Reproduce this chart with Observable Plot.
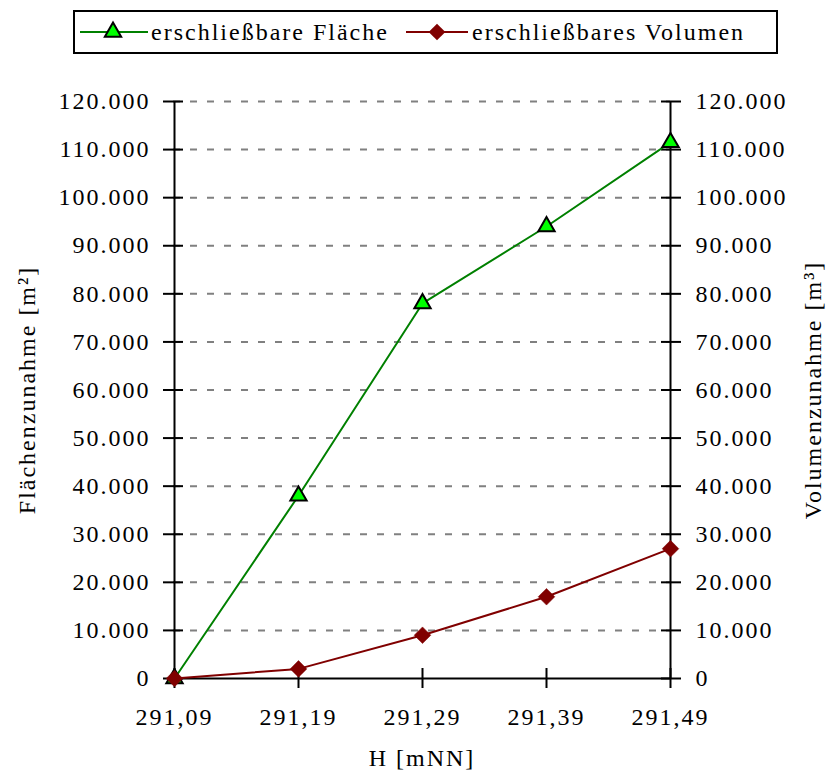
<!DOCTYPE html>
<html><head><meta charset="utf-8">
<script src="https://cdn.jsdelivr.net/npm/d3@7"></script>
<script src="https://cdn.jsdelivr.net/npm/@observablehq/plot@0.6"></script>
<style>
body{margin:0;background:#fff;font-family:"Liberation Serif",Tinos,"Times New Roman",Times,"Nimbus Roman","Nimbus Roman No9 L",FreeSerif,serif;}
#legend{position:absolute;left:73px;top:10px;width:705px;height:44px;border:2px solid #000;box-sizing:border-box;}
.item{position:absolute;top:0;height:40px;display:flex;align-items:center;font-size:24px;letter-spacing:2px;color:#000;white-space:nowrap;}
.sw{position:absolute;top:0;}
#chart{position:absolute;left:0;top:60px;}
#chart svg text{font-family:"Liberation Serif",Tinos,"Times New Roman",Times,"Nimbus Roman","Nimbus Roman No9 L",FreeSerif,serif;}
</style></head><body>
<div id="legend"></div><div id="chart"></div>
<script>
// Data
const heights = ["291,09", "291,19", "291,29", "291,39", "291,49"];
const flaeche = [0, 38000, 78000, 94000, 111500];
const volumen = [0, 2000, 9000, 17000, 27000];
const yTicks = [0, 10000, 20000, 30000, 40000, 50000, 60000, 70000, 80000, 90000, 100000, 110000, 120000];
const seriesNames = ["erschließbare Fläche", "erschließbares Volumen"];
const xTitle = "H [mNN]";
const yLeftTitle = "Flächenzunahme [m²]";
const yRightTitle = "Volumenzunahme [m³]";

const green = "#008000", greenFill = "#00ff00", red = "#800000";
const de = d3.formatLocale({decimal: ",", thousands: ".", grouping: [3], currency: ["", "€"]});
const fmt = de.format(",d");

const rowsF = heights.map((h, i) => ({h, v: flaeche[i]}));
const rowsV = heights.map((h, i) => ({h, v: volumen[i]}));

// Legend
const legend = document.getElementById("legend");
const triPath = d3.symbol(d3.symbolTriangle, 115)();
const diaPath = d3.symbol(d3.symbolDiamond2, Math.PI * 7.5 * 7.5)();
legend.innerHTML = `
<svg class="sw" style="left:5px" width="68" height="40"><line x1="0" x2="68" y1="20" y2="20" stroke="${green}" stroke-width="2"/><path d="${triPath}" transform="translate(33,20)" fill="${greenFill}" stroke="#000" stroke-width="2"/></svg>
<div class="item" style="left:76px">${seriesNames[0]}</div>
<svg class="sw" style="left:331px" width="62" height="40"><line x1="0" x2="62" y1="20" y2="20" stroke="${red}" stroke-width="2"/><path d="${diaPath}" transform="translate(31,20)" fill="${red}"/></svg>
<div class="item" style="left:397px">${seriesNames[1]}</div>`;

const chart = Plot.plot({
  width: 826,
  height: 713,
  marginTop: 41,
  marginBottom: 95,
  marginLeft: 173,
  marginRight: 156,
  style: {fontSize: "24px", letterSpacing: "2px", color: "#000", background: "#fff"},
  x: {type: "point", domain: heights, padding: 0, label: null},
  y: {domain: [0, 120000], label: null},
  marks: [
    Plot.gridY(yTicks.filter(d => d > 0), {stroke: "#808080", strokeOpacity: 1, strokeWidth: 2, strokeDasharray: "7,10"}),
    Plot.ruleY([0], {stroke: "#000", strokeWidth: 2}),
    Plot.ruleX([heights[0], heights[heights.length - 1]], {y1: 0, y2: 120000, stroke: "#000", strokeWidth: 2}),
    Plot.axisY({anchor: "left", ticks: yTicks, tickSize: 20, dx: 10, tickPadding: 13, tickFormat: fmt, strokeWidth: 2, label: null}),
    Plot.axisY({anchor: "right", ticks: yTicks, tickSize: 20, dx: -10, tickPadding: 15, tickFormat: fmt, strokeWidth: 2, label: null}),
    Plot.axisX({anchor: "bottom", tickSize: 20, dy: -10, tickPadding: 19, strokeWidth: 2, label: null}),
    Plot.line(rowsF, {x: "h", y: "v", stroke: green, strokeWidth: 2}),
    Plot.line(rowsV, {x: "h", y: "v", stroke: red, strokeWidth: 2}),
    Plot.dot(rowsF, {x: "h", y: "v", symbol: "triangle", r: 6.05, fill: greenFill, stroke: "#000", strokeWidth: 2}),
    Plot.dot(rowsV, {x: "h", y: "v", symbol: "diamond2", r: 7.5, fill: red, stroke: red, strokeWidth: 0.5}),
    Plot.text([yLeftTitle], {text: d => d, frameAnchor: "left", textAnchor: "middle", lineAnchor: "middle", rotate: -90, dx: -146}),
    Plot.text([yRightTitle], {text: d => d, frameAnchor: "right", textAnchor: "middle", lineAnchor: "middle", rotate: -90, dx: 143}),
    Plot.text([xTitle], {text: d => d, frameAnchor: "bottom", textAnchor: "middle", lineAnchor: "middle", dy: 80})
  ]
});
document.getElementById("chart").appendChild(chart);
</script>
</body></html>
